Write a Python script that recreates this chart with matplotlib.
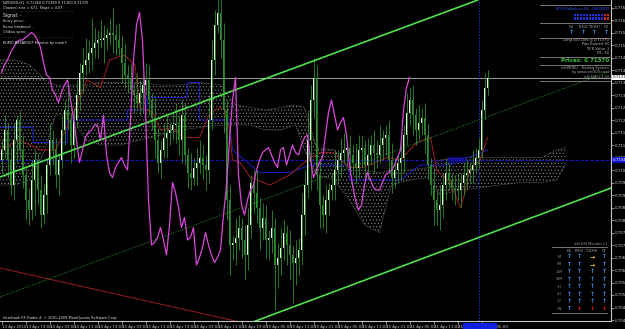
import numpy as np
import matplotlib
matplotlib.use("Agg")
import matplotlib.pyplot as plt

plt.rcParams['font.family'] = ['DejaVu Sans']
plt.rcParams['hatch.linewidth'] = 0.35

# NZDUSD H1 closes, in pips above 0.7000
close_pips = [108, 116, 104, 94, 112, 120, 108, 98, 88, 84,
              96, 104, 92, 82, 90, 102, 112, 108, 98, 104,
              116, 124, 120, 110, 120, 130, 139, 142, 144, 147,
              149, 151, 152, 152, 153, 154, 155, 154, 152, 149,
              143, 138, 137, 132, 130, 127, 131, 134, 136, 128,
              121, 112, 103, 108, 113, 115, 116, 118, 118, 112,
              122, 106, 99, 97, 101, 103, 105, 102, 100, 120,
              144, 158, 163, 152, 124, 88, 70, 71, 73, 77,
              72, 66, 78, 95, 91, 85, 77, 81, 72, 73,
              77, 62, 65, 69, 75, 70, 66, 63, 65, 68,
              82, 94, 112, 128, 137, 98, 86, 82, 88, 92,
              94, 100, 104, 107, 108, 109, 106, 103, 101, 108,
              109, 102, 106, 110, 107, 106, 110, 113, 114, 104,
              97, 100, 103, 105, 114, 123, 128, 122, 116, 119,
              121, 114, 102, 94, 88, 84, 86, 94, 99, 96,
              93, 92, 92, 95, 98, 99, 100, 102, 105, 108,
              124, 133, 137]
first_open_pips = 104
hi_ext = [4, 6, 3, 5, 7, 2, 4, 6, 3, 5,
          8, 4, 3, 6, 5, 2, 7, 4, 5, 3,
          6, 4, 8, 3, 5, 6, 4, 7, 9, 5,
          12, 6, 4, 8, 5, 3, 6, 10, 4, 7,
          5, 8, 4, 6, 3, 9, 5, 4, 7, 6,
          3, 8, 5, 4, 6, 7, 3, 5, 9, 4,
          6, 5, 3, 8, 4, 6, 7, 5, 4, 10,
          8, 6, 9, 5, 7, 4, 6, 3, 8, 5,
          4, 6, 7, 3, 5, 9, 4, 6, 5, 3,
          7, 4, 6, 8, 5, 3, 6, 4, 7, 5,
          9, 6, 12, 6, 8, 5, 7, 4, 6, 3,
          5, 8, 4, 6, 7, 3, 5, 4, 8, 6,
          5, 3, 7, 4, 6, 5, 8, 3, 4, 6,
          7, 5, 3, 6, 4, 8, 5, 6, 3, 7,
          4, 6, 5, 3, 7, 4, 8, 5, 6, 4,
          3, 5, 7, 4, 6, 5, 3, 6, 4, 5,
          4, 6, 3]
lo_ext = [5, 3, 7, 4, 6, 9, 3, 5, 8, 6,
          4, 14, 6, 5, 3, 7, 4, 6, 5, 8,
          3, 6, 4, 7, 5, 3, 6, 8, 4, 5,
          7, 4, 6, 3, 9, 5, 4, 7, 6, 3,
          8, 5, 6, 4, 7, 3, 5, 8, 4, 6,
          5, 7, 4, 6, 3, 8, 5, 4, 7, 6,
          9, 4, 6, 5, 3, 7, 4, 6, 8, 5,
          4, 6, 3, 7, 9, 8, 12, 6, 9, 5,
          7, 10, 6, 5, 8, 6, 9, 5, 7, 8,
          6, 18, 9, 7, 5, 8, 10, 16, 9, 7,
          6, 8, 5, 20, 7, 6, 9, 5, 7, 6,
          4, 6, 5, 7, 4, 6, 8, 5, 6, 4,
          7, 5, 6, 4, 8, 5, 3, 6, 7, 5,
          6, 4, 5, 7, 6, 4, 5, 8, 6, 4,
          5, 7, 6, 4, 10, 6, 8, 5, 6, 4,
          5, 6, 4, 7, 5, 6, 4, 5, 3, 4,
          3, 4, 3]

# Ichimoku cloud (senkou spans), bar index / pips
cloud_bar = [-0.5, 4.5, 9.5, 14.5, 18, 23, 28, 33, 40, 46, 53, 60, 66, 73, 78, 83, 88, 93,
             98, 101, 105, 111, 116, 121, 126, 130, 136, 143, 146, 153, 160, 166, 173,
             180, 185, 188]
cloud_a = [144, 144, 142, 136, 134, 134, 134, 135, 135, 135, 134, 134, 135, 134, 126, 125,
           124, 125, 126, 125, 109, 108, 100, 100, 99, 100, 100, 101, 104, 105, 105, 105,
           105, 105, 108, 109]
cloud_b = [94, 94, 96, 108, 122, 122, 112, 110, 110, 112, 114, 116, 117, 118, 118, 118,
           116, 116, 118, 108, 98, 96, 88, 78, 75, 94, 96, 97, 90, 92, 93, 94, 95, 95, 96,
           102]

# tenkan (red) and kijun (blue) lines
tenkan_bar = [-0.5, 6, 13, 18, 23, 28.5, 33, 36, 41, 44.5, 46, 50.5, 53, 57, 60.5, 66, 69.5,
              73, 74.5, 76, 77, 79.5, 83, 89.5, 96, 103, 106, 110.5, 116, 120.5, 128.5, 133,
              136, 138.5, 143, 144, 145, 149.5, 153, 154.5, 156, 159.5, 162]
tenkan_pips = [108, 112, 108, 108, 120, 136, 133, 144, 146, 142, 125, 123, 116, 117, 113, 113,
               123, 125, 124, 116, 104, 103, 97, 94, 98, 105, 107, 107, 101, 101, 105, 104,
               108, 111, 113, 107, 100, 95, 85, 91, 100, 104, 113]
kijun_bar = [-0.5, 10.5, 10.5, 22, 22, 42, 42, 48.5, 48.5, 62, 62, 66, 66, 76, 77, 86, 96,
             103, 116, 116, 133, 139.5, 149.5, 162]
kijun_pips = [117, 117, 111, 111, 120, 120, 124, 124, 129, 129, 135, 135, 120, 120, 108, 99,
              99, 102, 102, 96, 96, 102, 102, 108]

# trend lines: (bar, pips) end points
channel_top = ([-0.5, 158.8], [97.2, 168.0])
channel_mid = ([-0.5, 203.2], [49.2, 139.6])
channel_low = ([83.8, 203.2], [39.2, 92.8])
red_trend = ([-0.5, 79.5], [60.8, 39.2])

price_now = 0.71370
hline_level = 0.71040
vline_bar = 159.2
chikou_shift = 26

tick_bars = list(range(0, 161, 8))
tick_labels = ["13 Apr 2010", "13 Apr 19:00", "14 Apr 03:00", "14 Apr 11:00", "14 Apr 19:00",
               "15 Apr 03:00", "15 Apr 11:00", "15 Apr 19:00", "16 Apr 03:00", "16 Apr 11:00",
               "16 Apr 19:00", "19 Apr 05:00", "19 Apr 13:00", "19 Apr 21:00", "20 Apr 05:00",
               "20 Apr 13:00", "20 Apr 21:00", "21 Apr 05:00", "21 Apr 13:00", "21 Apr 21:00",
               "22 Apr 05:00"]
price_ticks = [0.7040 + 0.0005 * k for k in range(26)]


def p(v):
    return 0.70 + np.asarray(v, dtype=float) / 1e4


W, H = 625, 329
fig = plt.figure(figsize=(W / 100, H / 100), dpi=100, facecolor='black')
ax = fig.add_axes([0, 8 / H, 611 / W, 321 / H], facecolor='black')

close = p(close_pips)
open_ = np.concatenate([[p(first_open_pips)], close[:-1]])
high = np.maximum(open_, close) + np.array(hi_ext) / 1e4
low = np.minimum(open_, close) - np.array(lo_ext) / 1e4
bars = np.arange(len(close))

# cloud, drawn as a fine dotted texture
ax.fill_between(cloud_bar, p(cloud_a), p(cloud_b), facecolor='none', edgecolor='#9a9a9a',
                hatch='.....', linewidth=0, zorder=1)
ax.plot(cloud_bar, p(cloud_a), color='#a0a0a0', lw=0.5, ls=(0, (1, 1.5)), zorder=1)
ax.plot(cloud_bar, p(cloud_b), color='#a0a0a0', lw=0.5, ls=(0, (1, 1.5)), zorder=1)

# horizontal / vertical objects
ax.axhline(price_now, color='#9c9c9c', lw=0.7, zorder=2)
ax.axhline(hline_level, color='#1414c8', lw=0.8, ls=(0, (3, 1.5)), zorder=2)
ax.axvline(vline_bar, color='#2030d0', lw=0.7, ls=(0, (1.5, 1.5)), zorder=2)

# trend lines
ax.plot(channel_top[0], p(channel_top[1]), color='#4ee04e', lw=1.2, zorder=5)
ax.plot(channel_mid[0], p(channel_mid[1]), color='#2f9a2f', lw=0.7, ls=(0, (1, 1.5)), zorder=5)
ax.plot(channel_low[0], p(channel_low[1]), color='#4ee04e', lw=1.2, zorder=5)
ax.plot(red_trend[0], p(red_trend[1]), color='#8a1a1a', lw=0.8, zorder=2)

# indicator lines
ax.plot(kijun_bar, p(kijun_pips), color='#1a1ab0', lw=0.8, zorder=3)
ax.plot(tenkan_bar, p(tenkan_pips), color='#8b1c1c', lw=0.8, zorder=3)

# candles
up = close >= open_
ax.vlines(bars, low, high, color='#2e8b2e', lw=0.6, zorder=4)
body_lo = np.minimum(open_, close)
body_h = np.maximum(np.abs(close - open_), 0.00004)
ax.bar(bars[up], body_h[up], bottom=body_lo[up], width=0.62, color='#e6f7e0', lw=0, zorder=4)
ax.bar(bars[~up], body_h[~up], bottom=body_lo[~up], width=0.62, color='#2e8b2e', lw=0, zorder=4)

# chikou span
ax.plot(bars[chikou_shift:] - chikou_shift, close[chikou_shift:], color='#d848d8', lw=0.9, zorder=6)

ax.set_xlim(-0.5, 611 / 3 - 0.5)
ax.set_ylim(p(168 - 321 / 2.5), p(168))

ax.yaxis.tick_right()
ax.set_yticks(price_ticks)
ax.set_yticklabels(["%.4f" % v for v in price_ticks])
ax.set_xticks(tick_bars)
ax.set_xticklabels(tick_labels, ha='left')
ax.tick_params(axis='both', colors='#c8c8c8', labelsize=2.9, length=2, width=0.5, pad=1)
for s in ['left', 'top']:
    ax.spines[s].set_visible(False)
for s in ['right', 'bottom']:
    ax.spines[s].set_color('#c8c8c8')
    ax.spines[s].set_linewidth(0.8)

# overlay in pixel space for the panels
ov = fig.add_axes([0, 0, 1, 1], facecolor='none')
ov.set_xlim(0, W)
ov.set_ylim(H, 0)
ov.axis('off')

fs = 2.5
wt = '#e8e8e8'
ov.text(3, 3, "NZDUSD,H1  0.71360 0.71380 0.71300 0.71370", color=wt, fontsize=fs, va='center')
ov.text(3, 7.5, "Channel size = 671  Slope = 4.07", color=wt, fontsize=fs, va='center')
ov.text(3, 11, "- " * 30, color='#a0a0a0', fontsize=fs, va='center')
ov.text(3, 16, "Signal: -", color=wt, fontsize=3.3, va='center')
ov.text(3, 21, "Entry price: -", color=wt, fontsize=fs, va='center')
ov.text(3, 27, "Kumo breakout: -", color=wt, fontsize=fs, va='center')
ov.text(3, 32.5, "Chikou span: -", color=wt, fontsize=fs, va='center')
ov.text(3, 37, "- " * 30, color='#a0a0a0', fontsize=fs, va='center')
ov.text(3, 43, "KUMO BREAKOUT Monitor by mark3", color=wt, fontsize=fs, va='center')
ov.text(3, 318.5, "Interbank FX Trader 4, \u00a9 2001-2009 MetaQuotes Software Corp.", color=wt,
        fontsize=2.5, va='center')

# top-right panel
gl = '#8a8a8a'
for yy in [5, 23, 38, 57, 65, 81]:
    ov.plot([540, 611], [yy, yy], color=gl, lw=0.6)
ov.text(609, 9.5, "60% Bullish on H1 - 0000000", color='#3050ff', fontsize=2.6, ha='right', va='center')
for row_y in [15, 18.5]:
    for k in range(12):
        cx = 574 + k * 3
        col = '#d02020' if k >= 10 else '#2030d8'
        ov.add_patch(plt.Rectangle((cx, row_y - 1.3), 2.4, 2.6, color=col, lw=0))
for cx, lab in zip([571, 583, 594, 606], ["H4", "P(X3)", "T1(X3)", "C3"]):
    ov.text(cx, 26.5, lab, color='#c0c0c0', fontsize=2.5, ha='center', va='center')
    ov.text(cx, 33, "\u2191", color='#3a8ee8', fontsize=4.5, ha='center', va='center', fontweight='bold')
for yy, t in zip([40.5, 44.5, 48.5, 52.5], ["Long 100 Lots @ 0.71370", "Pips Earned: 50",
                                            "TICK Value: 1", "P/L: 50"]):
    ov.text(609, yy, t, color='#c0c0c0', fontsize=2.5, ha='right', va='center')
ov.text(609, 61, "Prices: 0.71370", color='#44c044', fontsize=4.0, ha='right', va='center',
        fontweight='bold')
for yy, t in zip([68.5, 72.5, 76.5], ["ichiMOKU - Trading System", "by www.ichi300.com",
                                      "ichi300 v.1.03"]):
    ov.text(609, yy, t, color='#b0b0b0', fontsize=2.5, ha='right', va='center')

# bottom-right monitor
ov.text(607, 244, "ichi300 Monitor v1", color='#a0a0a0', fontsize=2.5, ha='right', va='center')
ov.plot([552, 607], [247, 247], color=gl, lw=0.6)
ov.plot([552, 607], [313, 313], color=gl, lw=0.6)
cols_x = [569, 579, 592, 604]
for cx, lab in zip(cols_x, ["H4", "P(X3)", "T1(X3)", "C3"]):
    ov.text(cx, 250.5, lab, color='#c0c0c0', fontsize=2.4, ha='center', va='center')
rows = ["1M", "5M", "15M", "30M", "1H", "4H", "1D", "1W"]
blue, yel, red = '#3a8ee8', '#f0d020', '#e02020'
for r, lab in enumerate(rows):
    yy = 257 + r * 7.4
    ov.text(559, yy, lab, color='#909090', fontsize=2.4, ha='center', va='center')
    for c, cx in enumerate(cols_x):
        if c == 2 and r < 2:
            g, col = "\u2192", yel
        elif r == 7 and c > 0:
            g, col = "\u2193", red
        else:
            g, col = "\u2191", blue
        ov.text(cx, yy, g, color=col, fontsize=4.5, ha='center', va='center', fontweight='bold')

# axis labels for price / level / cursor
ov.text(612.5, 77.5, "0.7137", color='black', fontsize=2.9, va='center',
        bbox=dict(boxstyle='square,pad=0.15', fc='white', ec='none'))
ov.text(612.5, 160, "0.7104", color='white', fontsize=2.9, va='center',
        bbox=dict(boxstyle='square,pad=0.15', fc='#1010d0', ec='none'))
ov.text(449, 160, "0.71040", color='#2a2aff', fontsize=2.8, va='center',
        bbox=dict(boxstyle='square,pad=0.15', fc='#0a0a70', ec='none'))
ov.add_patch(plt.Rectangle((463, 322.5), 34, 6.5, color='#1020e0', lw=0))

fig.savefig('out.png', dpi=100, facecolor='black')
